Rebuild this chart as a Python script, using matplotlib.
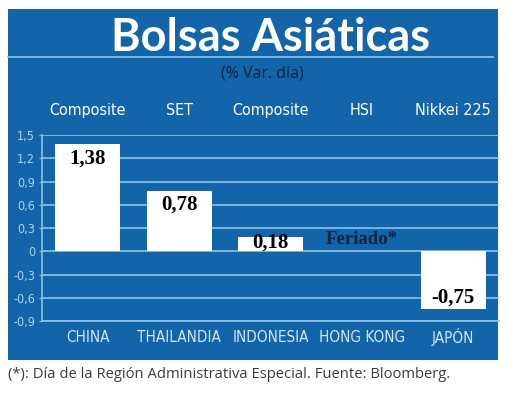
import numpy as np
import matplotlib
matplotlib.use("Agg")
import matplotlib.pyplot as plt
from matplotlib.patches import Rectangle
from matplotlib.lines import Line2D

# data
countries = ["CHINA", "THAILANDIA", "INDONESIA", "HONG KONG", "JAPÓN"]
indices = ["Composite", "SET", "Composite", "HSI", "Nikkei 225"]
values = [1.38, 0.78, 0.18, np.nan, -0.75]
yticks = [1.5, 1.2, 0.9, 0.6, 0.3, 0, -0.3, -0.6, -0.9]

BLUE = "#1464aa"
GRID = "#8cc3ea"
LIGHT = "#a9d5f3"
NAVY = "#0b2344"

W, H = 520, 411
fig = plt.figure(figsize=(5.2, 4.11), dpi=100)
fig.patch.set_facecolor("white")

# blue panel
fig.patches.append(Rectangle((8 / W, 1 - 360 / H), 490 / W, 351 / H,
                             transform=fig.transFigure, facecolor=BLUE,
                             edgecolor="none", zorder=-5))
fig.lines.append(Line2D([8 / W, 493 / W], [1 - 57 / H] * 2, transform=fig.transFigure,
                        color=GRID, lw=1.2, zorder=-4))

fig.text(271 / W, 1 - 51 / H, "Bolsas Asiáticas", ha="center", va="baseline",
         color="white", fontsize=32.5, fontweight="bold", family="Lato")
fig.text(262 / W, 1 - 73 / H, "(% Var. día)", ha="center", va="center",
         color=NAVY, fontsize=11.5, family="Open Sans")

ax = fig.add_axes([42 / W, 1 - 321 / H, 457 / W, 186 / H])
ax.set_facecolor("none")
x = np.arange(len(countries))
ax.bar(x, values, width=0.71, color="white", zorder=3)

ax.set_xlim(-0.5, 4.5)
ax.set_ylim(-0.9, 1.5)
ax.set_yticks(yticks)
ax.set_yticklabels([str(t).replace(".", ",") for t in yticks],
                   color=LIGHT, fontsize=9, family="DejaVu Sans", fontstretch="condensed")
ax.tick_params(axis="y", length=2, color=GRID, pad=3)
ax.set_xticks([])
for t in yticks:
    ax.axhline(t, color=GRID, lw=1.2, zorder=1)
for s in ["top", "right"]:
    ax.spines[s].set_visible(False)
for s in ["left", "bottom"]:
    ax.spines[s].set_color(GRID)
    ax.spines[s].set_linewidth(1.2)

for i, v in enumerate(values):
    if np.isnan(v):
        ax.annotate("Feriado*", (i, 0), xytext=(0, 2), textcoords="offset points",
                    ha="center", va="bottom", color=NAVY, fontsize=13.5,
                    fontweight="bold", family="Liberation Serif")
        continue
    lab = f"{v:.2f}".replace(".", ",")
    if v > 0:
        ax.annotate(lab, (i, max(v, 0.3)), xytext=(0, -3), textcoords="offset points",
                    ha="center", va="top", color="black", fontsize=15,
                    fontweight="bold", family="Liberation Serif")
    else:
        ax.annotate(lab, (i, v), xytext=(0, 1), textcoords="offset points",
                    ha="center", va="bottom", color="black", fontsize=15,
                    fontweight="bold", family="Liberation Serif")

# index names above, country names below
for i in range(len(countries)):
    ax.annotate(indices[i], (i, 1), xycoords=("data", "axes fraction"),
                xytext=(0, 25), textcoords="offset pixels", ha="center", va="center",
                color="white", fontsize=11.5, family="DejaVu Sans", fontstretch="condensed")
    ax.annotate(countries[i], (i, 0), xycoords=("data", "axes fraction"),
                xytext=(0, -16), textcoords="offset pixels", ha="center", va="center",
                color="#cfe8f8", fontsize=11, family="DejaVu Sans", fontstretch="condensed")

fig.text(8 / W, 1 - 374 / H,
         "(*): Día de la Región Administrativa Especial. Fuente: Bloomberg.",
         ha="left", va="center", color="#3a3a3a", fontsize=10.6, family="Open Sans")

fig.savefig("out.png", dpi=100)
